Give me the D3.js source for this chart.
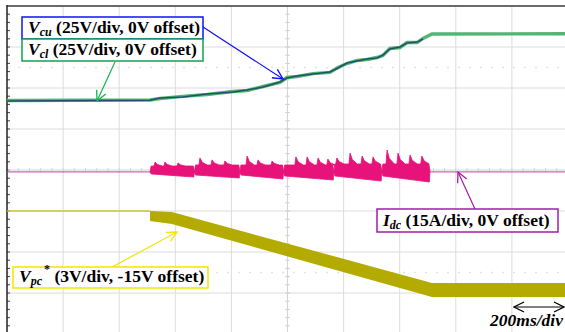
<!DOCTYPE html>
<html>
<head>
<meta charset="utf-8">
<script src="https://cdn.jsdelivr.net/npm/d3@7"></script>
<style>
  html, body { margin: 0; padding: 0; background: #fff; }
  svg { display: block; }
  .lbl { font-family: "Liberation Serif", "Times New Roman", serif; font-weight: bold; font-size: 17.5px; fill: #000; }
</style>
</head>
<body>
<svg id="scope" width="565" height="332"></svg>
<script>
// MARK: - Data (read from the scope capture)

// Vcu / Vcl, time in ms, voltage in V (25V/div, 0V offset)
const vcTime = [0, 510, 545, 627, 713, 806, 856, 913, 973, 998, 1034, 1091, 1151, 1180, 1212, 1248, 1283, 1319, 1340, 1365, 1401, 1426, 1462, 1483, 1515, 2000];
const vcuVolts = [42.1, 42.5, 43.9, 44.5, 46.3, 47.6, 48.8, 50.6, 53.7, 56.1, 57.3, 58.5, 59.8, 62.2, 65.2, 66.5, 67.7, 68.3, 70.1, 73.8, 75.0, 77.4, 78.0, 79.9, 82.9, 82.9];
const vclVolts = [42.4, 42.7, 43.6, 44.9, 46.0, 47.9, 48.5, 50.9, 53.4, 56.4, 57.0, 58.8, 59.5, 62.5, 64.9, 66.8, 67.4, 68.6, 69.8, 74.1, 74.7, 77.7, 77.7, 80.2, 82.9, 83.1];

// Idc (15A/div, 0V offset): idle level and switching bursts
const idcIdle = -0.7;
const idcBurstStart = [510, 668, 830, 986, 1165, 1336];
const idcBurstEnd = [668, 830, 986, 1165, 1336, 1508];
const idcBodyTop = [1.46, 1.83, 1.83, 1.83, 2.2, 2.2];
const idcBottomStart = [-1.46, -1.83, -1.83, -2.2, -2.2, -2.2];
const idcBottomEnd = [-2.56, -2.93, -3.29, -3.66, -4.03, -4.39];
const idcSpikeTime = [
  [528, 563, 610],
  [688, 731, 777],
  [856, 895, 945],
  [1030, 1070, 1109, 1144],
  [1176, 1223, 1266, 1305],
  [1355, 1394, 1437, 1479]
];
const idcSpikePeak = [
  [2.9, 2.9, 2.6],
  [4.4, 3.7, 3.3],
  [5.1, 3.7, 3.3],
  [4.8, 4.8, 4.4, 4.0],
  [4.4, 6.2, 5.1, 4.8],
  [7.3, 6.2, 5.5, 5.1]
];

// Vpc* (3V/div, -15V offset): upper and lower edge of the ripple band
const vpcTime = [0, 510, 588, 1515, 2000];
const vpcHigh = [12.0, 12.0, 11.93, 6.73, 6.73];
const vpcLow = [12.0, 11.27, 11.05, 5.71, 5.71];

// MARK: - Scales

const svg = d3.select('#scope');
const xDivs = 10;
const x = d3.scaleLinear().domain([0, 2000]).range([7, 568]);
const yDiv = d3.scaleLinear().domain([-4, 4]).range([334, 6]);
const yVc = d3.scaleLinear().domain([-100, 100]).range([334, 6]);
const yIdc = d3.scaleLinear().domain([-60, 60]).range([334, 6]);
const yVpc = d3.scaleLinear().domain([3, 27]).range([334, 6]);

// MARK: - Graticule

const grid = svg.append('g');
grid.selectAll('line.v')
  .data(d3.range(1, xDivs))
  .join('line')
  .attr('x1', d => x(d * 200)).attr('x2', d => x(d * 200))
  .attr('y1', 6).attr('y2', 332)
  .attr('stroke', '#dcdcdc').attr('stroke-width', 1);
grid.selectAll('line.h')
  .data(d3.range(-3, 4))
  .join('line')
  .attr('x1', 7).attr('x2', 565)
  .attr('y1', d => yDiv(d)).attr('y2', d => yDiv(d))
  .attr('stroke', '#dcdcdc').attr('stroke-width', 1);
grid.selectAll('line.dot')
  .data([2.5, -2.5])
  .join('line')
  .attr('x1', 7).attr('x2', 565)
  .attr('y1', d => yDiv(d)).attr('y2', d => yDiv(d))
  .attr('stroke', '#e2e2e2').attr('stroke-width', 1.5)
  .attr('stroke-dasharray', '2,9');

// minor ticks on the centre axes and left frame
const minorY = d3.range(-4 * 5, 4 * 5 + 1).map(d => d / 5);
const minorX = d3.range(0, xDivs * 5 + 1).map(d => d * 40);
grid.selectAll('line.cy')
  .data(minorY)
  .join('line')
  .attr('x1', x(1000) - 2).attr('x2', x(1000) + 2)
  .attr('y1', d => yDiv(d)).attr('y2', d => yDiv(d))
  .attr('stroke', '#c4c4c4');
grid.selectAll('line.cx')
  .data(minorX)
  .join('line')
  .attr('x1', d => x(d)).attr('x2', d => x(d))
  .attr('y1', yDiv(0) - 2).attr('y2', yDiv(0) + 2)
  .attr('stroke', '#d0d0d0');
grid.selectAll('line.ly')
  .data(minorY)
  .join('line')
  .attr('x1', 7).attr('x2', 10)
  .attr('y1', d => yDiv(d)).attr('y2', d => yDiv(d))
  .attr('stroke', '#444');
grid.append('line')
  .attr('x1', x(1000)).attr('x2', x(1000)).attr('y1', 6).attr('y2', 332)
  .attr('stroke', '#d4d4d4');
grid.append('line')
  .attr('x1', 7).attr('x2', 565).attr('y1', yDiv(0)).attr('y2', yDiv(0))
  .attr('stroke', '#e4e4e4');

// frame
svg.append('line').attr('x1', 7).attr('x2', 565).attr('y1', 6).attr('y2', 6)
  .attr('stroke', '#6a6a6a').attr('stroke-width', 2);
svg.append('line').attr('x1', 7).attr('x2', 7).attr('y1', 5).attr('y2', 332)
  .attr('stroke', '#222').attr('stroke-width', 1.5);

// MARK: - Traces

// Vpc* band
const vpcIdx = d3.range(vpcTime.length);
svg.append('path')
  .attr('d', d3.line().x(i => x(vpcTime[i])).y(i => yVpc(vpcHigh[i]))(vpcIdx.slice(0, 2)))
  .attr('fill', 'none').attr('stroke', '#c9c33c').attr('stroke-width', 1.6);
svg.append('path')
  .attr('d', d3.area()
    .x(i => x(vpcTime[i]))
    .y0(i => yVpc(vpcLow[i]))
    .y1(i => yVpc(vpcHigh[i]))(vpcIdx.slice(1)))
  .attr('fill', '#b3ab00');

// Idc idle line
svg.append('line')
  .attr('x1', x(0)).attr('x2', x(2000))
  .attr('y1', yIdc(idcIdle)).attr('y2', yIdc(idcIdle))
  .attr('stroke', '#b4489e').attr('stroke-width', 1);

// Idc switching bursts: body with sawtooth spikes on top
idcBurstStart.forEach((t0, g) => {
  const t1 = idcBurstEnd[g];
  const top = idcBodyTop[g];
  const pts = [[t0, idcIdle], [t0 + 4, top]];
  idcSpikeTime[g].forEach((ts, k) => {
    const peak = idcSpikePeak[g][k];
    pts.push([ts - 4, top], [ts, peak], [ts + 8, top + (peak - top) * 0.4], [ts + 26, top]);
  });
  pts.push([t1 - 4, top], [t1, idcIdle + 0.4], [t1 - 2, idcBottomEnd[g]], [t0 + 4, idcBottomStart[g]]);
  svg.append('path')
    .attr('d', d3.line().x(p => x(p[0])).y(p => yIdc(p[1]))(pts) + 'Z')
    .attr('fill', '#e8137a').attr('stroke', '#e8137a').attr('stroke-width', 0.8);
});

// Vcl / Vcu
const vcIdx = d3.range(vcTime.length);
svg.append('path')
  .attr('d', d3.line().x(i => x(vcTime[i])).y(i => yVc(vclVolts[i]))(vcIdx))
  .attr('fill', 'none').attr('stroke', '#52b574').attr('stroke-width', 3.4);
svg.append('path')
  .attr('d', d3.line().x(i => x(vcTime[i])).y(i => yVc(vcuVolts[i]))(vcIdx.slice(0, vcIdx.length - 2)))
  .attr('fill', 'none').attr('stroke', '#234f6c').attr('stroke-width', 1.5);

// MARK: - Labels

const defs = svg.append('defs');
function arrowMarker(id, color) {
  defs.append('marker')
    .attr('id', id).attr('viewBox', '0 0 12 12')
    .attr('refX', 11).attr('refY', 6)
    .attr('markerWidth', 12).attr('markerHeight', 12)
    .attr('markerUnits', 'userSpaceOnUse')
    .attr('orient', 'auto-start-reverse')
    .append('path').attr('d', 'M1,1 L11,6 L1,11')
    .attr('fill', 'none').attr('stroke', color).attr('stroke-width', 1.3);
}

function leader(id, color, x1, y1, x2, y2) {
  arrowMarker(id, color);
  svg.append('line')
    .attr('x1', x1).attr('y1', y1).attr('x2', x2).attr('y2', y2)
    .attr('stroke', color).attr('stroke-width', 1.2)
    .attr('marker-end', `url(#${id})`);
}

function labelBox(color, bx, by, bw, bh, sym, sub, sup, rest) {
  svg.append('rect')
    .attr('x', bx).attr('y', by).attr('width', bw).attr('height', bh)
    .attr('fill', '#fff').attr('stroke', color).attr('stroke-width', 1.5);
  const t = svg.append('text').attr('class', 'lbl')
    .attr('x', bx + 6).attr('y', by + bh - 6);
  t.append('tspan').attr('font-style', 'italic').text(sym);
  t.append('tspan').attr('font-style', 'italic').attr('font-size', 12)
    .attr('dy', 3).text(sub);
  if (sup) {
    t.append('tspan').attr('font-size', 12).attr('dy', -12).attr('dx', 2).text(sup);
    t.append('tspan').attr('dy', 9).text(' ' + rest);
  } else {
    t.append('tspan').attr('dy', -3).text(' ' + rest);
  }
}

leader('arBlue', '#1010ff', 203, 27, 283, 79);
leader('arGreen', '#14b450', 115, 62, 97, 101);
leader('arPurple', '#a01ca8', 475, 209, 458, 172);
leader('arYellow', '#f2e600', 112, 267, 177, 232);

labelBox('#1010ff', 22, 17, 181, 22, 'V', 'cu', null, '(25V/div, 0V offset)');
labelBox('#14a050', 22, 39, 181, 22, 'V', 'cl', null, '(25V/div, 0V offset)');
labelBox('#a01ca8', 377, 209, 181, 23, 'I', 'dc', null, '(15A/div, 0V offset)');
labelBox('#f2e600', 13, 267, 195, 21, 'V', 'pc', '*', '(3V/div, -15V offset)');

// time base marker
arrowMarker('arBlack', '#000');
svg.append('line')
  .attr('x1', 514).attr('x2', 564).attr('y1', 307).attr('y2', 307)
  .attr('stroke', '#000').attr('stroke-width', 1)
  .attr('marker-start', 'url(#arBlack)').attr('marker-end', 'url(#arBlack)');
svg.append('text').attr('class', 'lbl').attr('font-style', 'italic')
  .attr('font-size', 16.5)
  .attr('x', 563).attr('y', 326).attr('text-anchor', 'end').text('200ms/div');
</script>
</body>
</html>
